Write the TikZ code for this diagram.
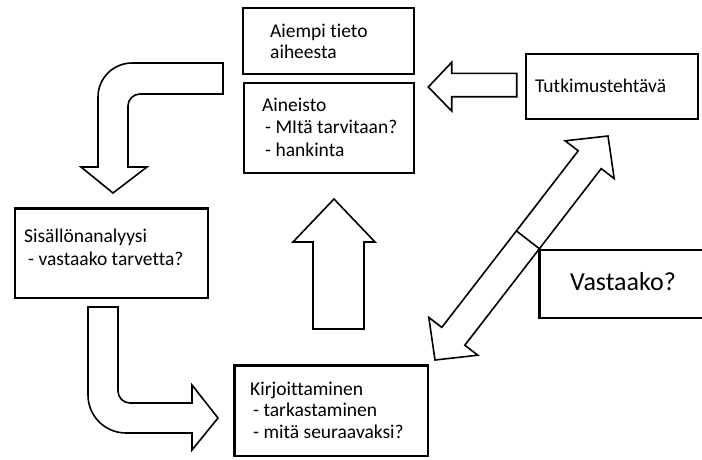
\documentclass[tikz,border=0pt]{standalone}
\usepackage{fontspec}
\setmainfont[Ligatures=NoCommon]{Carlito}
\begin{document}
\begin{tikzpicture}[x=1pt,y=-1pt,
  box/.style={draw=black, line width=2.2pt, fill=white, anchor=north west, inner sep=0pt},
  blockarrow/.style={draw=black, line width=1.6pt, fill=white, line join=miter},
  txt/.style={anchor=base west, inner sep=0pt, font=\fontsize{19.5}{23}\selectfont},
  bigtxt/.style={anchor=base west, inner sep=0pt, font=\fontsize{26}{30}\selectfont}]
\useasboundingbox (0,0) rectangle (702,459);
\clip (0,0) rectangle (702,459);

% boxes
\node[box, minimum width=171pt, minimum height=66pt] (aiempi) at (241.7,6.7) {};
\node[box, minimum width=170pt, minimum height=90pt] (aineisto) at (242.7,81.7) {};
\node[box, minimum width=172pt, minimum height=65pt] (tutk) at (524.5,52.7) {};
\node[box, minimum width=180pt, minimum height=68pt] (vast) at (538.3,249) {};
\node[box, minimum width=192.7pt, minimum height=89.4pt] (sis) at (14,207.3) {};
\node[box, minimum width=193.4pt, minimum height=90.7pt] (kirj) at (233.3,364.3) {};

% texts
\node[txt] (t1) at (270,37) {Aiempi tieto};
\node[txt] (t2) at (270,58) {aiheesta};
\node[txt] (t3) at (262,111) {Aineisto};
\node[txt] (t4) at (265,133) {- MItä tarvitaan?};
\node[txt] (t5) at (265,156) {- hankinta};
\node[txt] (t6) at (535,92) {Tutkimustehtävä};
\node[bigtxt] (t7) at (570,290) {Vastaako?};
\node[txt] (t8) at (24,242) {Sisällönanalyysi};
\node[txt] (t9) at (28,265) {- vastaako tarvetta?};
\node[txt] (t10) at (250,395) {Kirjoittaminen};
\node[txt] (t11) at (253,416) {- tarkastaminen};
\node[txt] (t12) at (253,438) {- mitä seuraavaksi?};

% left arrow: Tutkimustehtava -> Aineisto
\draw[blockarrow] (516.7,73.3) -- (451.7,73.3) -- (451.7,62.3) -- (428.3,87) -- (451.7,111) -- (451.7,96.7) -- (516.7,96.7) -- cycle;

% up arrow: Kirjoittaminen -> Aineisto
\draw[blockarrow] (313,329) -- (313,242) -- (293,242) -- (334,199) -- (375,242) -- (364,242) -- (364,329) -- cycle;

% bent arrow top left
\draw[blockarrow] (223,63) -- (132,63) .. controls (113.2,63) and (98,78.2) .. (98,97) -- (98,167) -- (81,167) -- (113,193) -- (147,167) -- (128,167) -- (128,106) .. controls (128,99.4) and (133.4,94) .. (140,94) -- (223,94) -- cycle;

% bent arrow bottom left
\draw[blockarrow] (88,307) -- (88,395) .. controls (88,416) and (105,433) .. (126,433) -- (192,433) -- (192,450) -- (218,418) -- (192,385) -- (192,403) -- (130,403) .. controls (123.4,403) and (118,397.6) .. (118,391) -- (118,307) -- cycle;

% diagonal double arrow
\coordinate (dA) at (435,360);
\coordinate (dB) at (608,136);
\coordinate (dL) at (516.4,230.9);
\coordinate (dR) at (539.4,248.7);
\draw[blockarrow] (dA) -- (477.8,355.2) -- (464.8,345.2) -- (dR) -- (601.2,168.6) -- (614.2,178.6) -- (dB) -- (565.2,140.8) -- (578.2,150.8) -- (dL) -- (441.8,327.4) -- (428.8,317.4) -- cycle;
\draw[line width=1.6pt] (dL) -- (dR);
\end{tikzpicture}
\end{document}
